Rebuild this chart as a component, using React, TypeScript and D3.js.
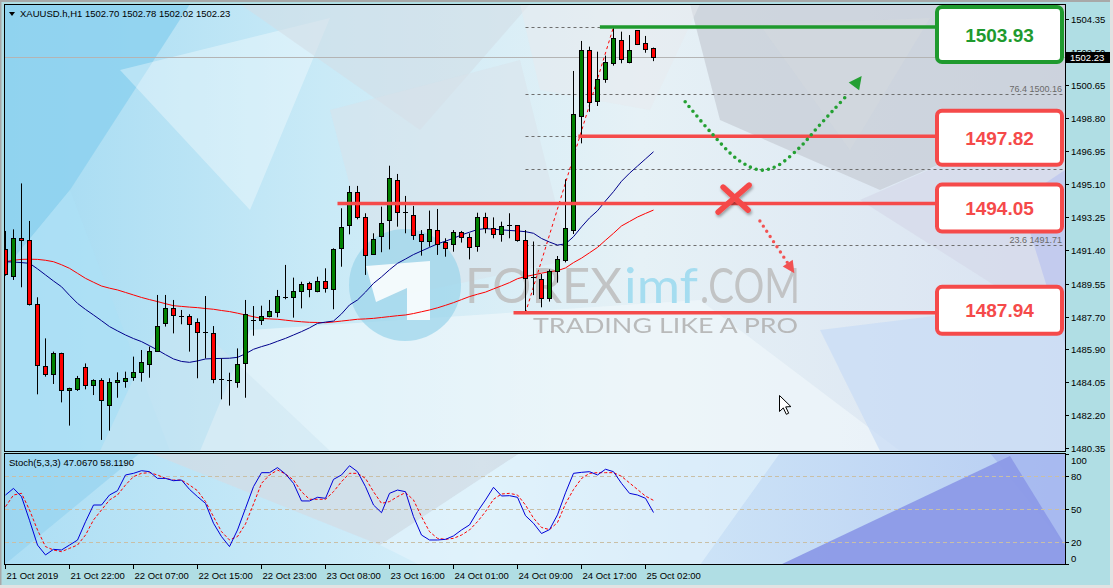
import React from 'react';
import * as d3 from 'd3';

// XAUUSD H1 candles, 21 Oct 2019 -> 25 Oct 03:00 (82 bars)
const opens = [
  1491.49, 1489.96, 1492.11, 1492.01, 1488.42, 1484.93, 1484.50, 1485.67, 1483.62, 1483.66,
  1484.89, 1483.88, 1484.18, 1482.77, 1484.05, 1484.11, 1484.31, 1484.61, 1485.06, 1485.80,
  1487.35, 1488.19, 1487.74, 1487.76, 1487.41, 1486.85, 1486.76, 1484.20, 1484.16, 1484.05,
  1485.11, 1487.52, 1487.50, 1487.73, 1487.95, 1488.81, 1488.81, 1489.16, 1489.59, 1489.16,
  1489.72, 1489.25, 1491.55, 1492.85, 1494.68, 1493.28, 1491.21, 1492.20, 1493.10, 1495.37,
  1493.53, 1493.41, 1492.35, 1491.92, 1492.57, 1491.88, 1491.77, 1492.44, 1492.16, 1491.64,
  1493.28, 1492.67, 1492.33, 1492.82, 1492.82, 1491.98, 1489.93, 1489.82, 1488.75, 1490.24,
  1490.86, 1492.57, 1498.91, 1502.59, 1499.75, 1501.00, 1501.90, 1503.20, 1501.95, 1503.71,
  1502.98, 1502.70,
];
const highs = [
  1492.52, 1492.61, 1495.18, 1493.08, 1488.81, 1486.51, 1485.77, 1485.71, 1483.75, 1484.41,
  1485.11, 1484.22, 1484.28, 1484.28, 1484.61, 1484.65, 1485.49, 1485.86, 1486.05, 1488.94,
  1488.94, 1488.66, 1488.10, 1487.86, 1487.63, 1488.88, 1487.20, 1485.39, 1484.59, 1485.95,
  1488.66, 1488.32, 1488.34, 1488.66, 1489.22, 1490.62, 1489.91, 1489.68, 1489.68, 1489.96,
  1490.43, 1491.55, 1493.79, 1495.04, 1495.04, 1493.51, 1492.39, 1493.88, 1496.17, 1495.71,
  1494.48, 1493.92, 1492.57, 1493.66, 1493.75, 1492.11, 1492.57, 1492.52, 1492.39, 1493.54,
  1493.54, 1493.28, 1493.04, 1493.51, 1492.85, 1492.57, 1491.93, 1490.11, 1490.37, 1491.12,
  1495.41, 1501.47, 1503.15, 1502.83, 1502.55, 1502.33, 1503.93, 1503.67, 1503.48, 1503.76,
  1503.43, 1502.78,
];
const lows = [
  1490.02, 1489.78, 1489.37, 1488.35, 1483.38, 1484.37, 1483.96, 1482.93, 1481.63, 1483.57,
  1483.66, 1483.34, 1480.83, 1481.35, 1483.19, 1483.75, 1484.14, 1484.09, 1484.31, 1485.77,
  1487.17, 1486.79, 1487.30, 1485.77, 1484.28, 1485.39, 1484.00, 1483.10, 1482.75, 1483.75,
  1483.19, 1486.66, 1487.26, 1487.69, 1487.69, 1488.70, 1487.67, 1488.19, 1488.81, 1489.09,
  1489.07, 1488.14, 1490.52, 1492.33, 1493.17, 1490.06, 1491.18, 1491.33, 1491.49, 1492.76,
  1492.39, 1492.02, 1491.14, 1491.64, 1491.18, 1491.08, 1491.36, 1491.87, 1490.93, 1491.36,
  1492.39, 1492.11, 1491.92, 1492.11, 1491.92, 1487.94, 1488.93, 1488.25, 1488.57, 1489.63,
  1490.76, 1492.35, 1497.42, 1499.19, 1499.51, 1500.81, 1501.77, 1501.90, 1501.90, 1502.92,
  1502.49, 1502.02,
];
const closes = [
  1490.06, 1492.11, 1491.96, 1488.38, 1484.97, 1484.50, 1485.67, 1483.57, 1483.72, 1484.28,
  1483.88, 1484.13, 1483.01, 1484.05, 1484.18, 1484.28, 1484.61, 1485.17, 1485.80, 1487.20,
  1488.19, 1487.78, 1487.71, 1487.30, 1486.85, 1486.81, 1484.22, 1484.16, 1484.13, 1485.06,
  1487.82, 1487.48, 1487.73, 1488.04, 1488.83, 1488.77, 1489.16, 1489.53, 1489.22, 1489.72,
  1489.31, 1491.51, 1492.72, 1494.68, 1493.28, 1491.14, 1492.07, 1492.95, 1495.43, 1493.56,
  1493.47, 1492.26, 1491.92, 1492.61, 1491.79, 1491.55, 1492.44, 1492.15, 1491.59, 1493.28,
  1492.63, 1492.35, 1492.76, 1492.78, 1491.96, 1489.87, 1489.90, 1488.75, 1490.28, 1490.90,
  1492.67, 1499.04, 1502.59, 1499.71, 1501.02, 1501.95, 1503.26, 1502.12, 1502.59, 1502.96,
  1502.68, 1502.23,
];

// moving averages (navy = fast, red = slow)
const maFast = [
  1490.80, 1490.78, 1490.75, 1490.71, 1490.40, 1490.06, 1489.72, 1489.40, 1488.92, 1488.47,
  1488.13, 1487.82, 1487.50, 1487.17, 1486.93, 1486.70, 1486.50, 1486.33, 1486.10, 1485.86,
  1485.60, 1485.36, 1485.22, 1485.17, 1485.25, 1485.36, 1485.38, 1485.39, 1485.40, 1485.45,
  1485.65, 1485.90, 1486.05, 1486.18, 1486.35, 1486.51, 1486.70, 1486.89, 1487.10, 1487.35,
  1487.42, 1487.48, 1487.88, 1488.38, 1488.66, 1489.10, 1489.59, 1489.95, 1490.35, 1490.71,
  1490.95, 1491.20, 1491.40, 1491.60, 1491.80, 1491.95, 1492.11, 1492.30, 1492.45, 1492.60,
  1492.65, 1492.62, 1492.58, 1492.55, 1492.52, 1492.48, 1492.39, 1492.10, 1491.90, 1491.73,
  1491.80, 1492.20, 1492.75, 1493.25, 1493.65, 1494.20, 1494.72, 1495.30, 1495.75, 1496.15,
  1496.55, 1496.95,
];
const maSlow = [
  1490.80, 1490.88, 1490.93, 1490.94, 1490.93, 1490.88, 1490.80, 1490.63, 1490.43, 1490.15,
  1489.87, 1489.65, 1489.44, 1489.32, 1489.22, 1489.08, 1488.94, 1488.80, 1488.68, 1488.57,
  1488.45, 1488.34, 1488.30, 1488.26, 1488.23, 1488.18, 1488.14, 1488.07, 1488.01, 1487.92,
  1487.82, 1487.72, 1487.63, 1487.60, 1487.58, 1487.53, 1487.48, 1487.44, 1487.41, 1487.40,
  1487.39, 1487.43, 1487.48, 1487.53, 1487.58, 1487.60, 1487.63, 1487.68, 1487.73, 1487.78,
  1487.82, 1487.90, 1488.00, 1488.10, 1488.22, 1488.36, 1488.51, 1488.68, 1488.85, 1488.98,
  1489.10, 1489.28, 1489.45, 1489.63, 1489.85, 1489.97, 1490.06, 1490.16, 1490.24, 1490.30,
  1490.45, 1490.75, 1491.00, 1491.30, 1491.60, 1492.00, 1492.39, 1492.80, 1493.05, 1493.30,
  1493.50, 1493.69,
];

// Stoch(5,3,3)
const stochK = [
  63, 69, 61.5, 40, 17.5, 8.5, 13.6, 13, 17.5, 22,
  38.7, 53.9, 53.9, 63, 66.9, 81.2, 82.7, 85.1, 84.2, 78.1,
  78.1, 76, 76.6, 68.1, 61.5, 55.4, 37.3, 25.2, 16.1, 31.2,
  50.9, 70.6, 83.3, 83.3, 87.9, 82.1, 73.6, 57.6, 57.6, 60.9,
  60, 77.2, 81.2, 89.6, 84.2, 70.6, 53.9, 46.9, 64.5, 67.5,
  66, 43.3, 26.6, 22.1, 22.1, 22.7, 25.8, 31.2, 35.8, 47.9,
  58.5, 70, 62.1, 62.4, 60.9, 44.2, 37.3, 28, 31.5, 45,
  65, 82.7, 83.6, 84.2, 81.2, 86.4, 84.2, 73.6, 64.5, 63,
  60, 47.07,
];
const stochD = [
  52.4, 63, 64.5, 49.4, 31.2, 16.1, 13, 11.5, 14.5, 17.5,
  26.6, 40.3, 49.4, 58.5, 63, 72.1, 79.7, 82.7, 83.3, 81.2,
  78.1, 76.6, 76.6, 72.1, 66.9, 57, 43.3, 29.7, 22.1, 25.2,
  36.7, 54.8, 73.6, 81.2, 85.7, 82.1, 76.6, 66, 59.1, 59.1,
  59.1, 66, 75.1, 82.7, 82.7, 78.1, 66, 55.4, 57, 61.5,
  65.2, 58.5, 43.3, 29.7, 23.6, 22.7, 23.6, 26.6, 31.2, 38.8,
  47.9, 59.1, 63.9, 64.5, 63, 53.9, 42, 33.5, 31.5, 38,
  55, 68, 78, 82.7, 83.3, 83.3, 83.3, 80, 74, 68,
  62, 58.12,
];

const priceTicks = [1504.35, 1502.50, 1500.65, 1498.80, 1496.95, 1495.10, 1493.25, 1491.40, 1489.55, 1487.70, 1485.90, 1484.05, 1482.20, 1480.35];
const timeLabels = ['21 Oct 2019', '21 Oct 22:00', '22 Oct 07:00', '22 Oct 15:00', '22 Oct 23:00', '23 Oct 08:00', '23 Oct 16:00', '24 Oct 01:00', '24 Oct 09:00', '24 Oct 17:00', '25 Oct 02:00'];
const timeLabelBars = [0, 8, 16, 24, 32, 40, 48, 56, 64, 72, 80];
const stochTicks = [100, 80, 50, 20, 0];
const stochLevels = [80, 50, 20];

// drawn objects
const levelPrices = [1503.93, 1497.82, 1494.05, 1487.94];
const levelStartBars = [74.3, 71.6, 41.5, 63.5];
const levelColors = ['#1f9a2e', '#f54a4a', '#f54a4a', '#f54a4a'];
const fibRatios = [0, 23.6, 38.2, 50, 61.8, 76.4, 100];
const fibShown = [23.6, 76.4];
const fibStartBar = 65;
const fibEndBar = 76;
const fibLow = 1487.94;
const fibHigh = 1503.93;
const currentPrice = 1502.23;
const greenScenario: [number, number][] = [
  [84.96, 1499.75], [88.1, 1498.07], [91.6, 1496.49], [94.3, 1495.93], [96.4, 1496.15],
  [99.3, 1497.2], [101.4, 1498.26], [103.5, 1499.29], [105.4, 1500.22], [106.8, 1501.06],
];
const redScenario: [number, number][] = [[94.3, 1493.08], [98.4, 1490.3]];
const crossAt: [number, number] = [90.95, 1494.3];

// decorative low-poly backdrop
const mainShapes: [string, number, string][] = [
  ['#8dd1ef', 0.85, '4,4 190,4 70,190 4,270'],
  ['#ace0f5', 0.8, '4,270 70,190 170,451 4,451'],
  ['#ffffff', 0.35, '120,70 330,18 250,210'],
  ['#d2dde6', 0.6, '240,4 530,4 420,130'],
  ['#d9e2e9', 0.5, '330,110 520,60 570,260 380,300'],
  ['#c6ccd4', 0.7, '690,4 1065,4 1065,110 880,190 720,120'],
  ['#d3d8de', 0.6, '760,25 930,18 850,150'],
  ['#e7eaee', 0.5, '520,4 700,4 650,110 540,90'],
  ['#d5dae9', 0.75, '860,200 1065,110 1065,330'],
  ['#c0c8ee', 0.85, '1020,200 1065,170 1065,345'],
  ['#f2f9fc', 0.6, '250,330 700,300 900,451 200,451'],
  ['#c8dbf5', 0.7, '820,330 1065,300 1065,451 880,451'],
  ['#cde6f2', 0.5, '170,300 330,451 100,451'],
];
const stochShapes: [string, number, string][] = [
  ['#96d3f0', 0.7, '4,453 140,453 4,565'],
  ['#d3dbe4', 0.7, '150,453 520,453 380,545'],
  ['#e4f4fb', 0.6, '380,545 520,453 780,453 700,565 420,565'],
  ['#a6b8ef', 0.9, '990,453 1065,453 1065,545'],
  ['#8c9ae7', 0.95, '780,565 1010,456 1065,545 1065,565'],
];

const font = "'Liberation Sans', Arial, sans-serif";

export default function App() {
  const x = d3.scaleLinear().domain([0, 81]).range([5.5, 653.5]);
  const y = d3.scaleLinear().domain([1480.35, 1504.35]).range([448.5, 19.5]);
  const ys = d3.scaleLinear().domain([0, 100]).range([564.3, 454.3]);
  const snap = (v: number) => Math.round(v - 0.5) + 0.5;

  const maLine = d3.line<number>().x((_, i) => x(i)).y(d => y(d));
  const stLine = d3.line<number>().x((_, i) => x(i)).y(d => ys(d));
  const scenLine = d3.line<[number, number]>().x(d => x(d[0])).y(d => y(d[1])).curve(d3.curveCatmullRom);

  const arrowHead = (pts: [number, number][], size: number) => {
    const a = pts[pts.length - 2];
    const b = pts[pts.length - 1];
    const x1 = x(a[0]), y1 = y(a[1]), x2 = x(b[0]), y2 = y(b[1]);
    const ang = Math.atan2(y2 - y1, x2 - x1);
    const tipX = x2 + Math.cos(ang) * 3, tipY = y2 + Math.sin(ang) * 3;
    const bx = tipX - Math.cos(ang) * size, by = tipY - Math.sin(ang) * size;
    const px = Math.cos(ang + Math.PI / 2) * size * 0.5, py = Math.sin(ang + Math.PI / 2) * size * 0.5;
    return `${tipX},${tipY} ${bx + px},${by + py} ${bx - px},${by - py}`;
  };

  const boxLeft = 937;
  const boxRight = 1062;
  const boxHeights = [55, 54, 47, 47];
  const boxShift = [0, 1.5, 4.5, -2.5];

  return (
    <div style={{ position: 'fixed', left: 0, top: 0 }}>
      <svg width={1113} height={588} style={{ display: 'block', fontFamily: font }}>
        <defs>
          <linearGradient id="mainBg" x1="0" x2="1" y1="0" y2="0">
            <stop offset="0%" stopColor="#a3daf2" />
            <stop offset="30%" stopColor="#c9eaf7" />
            <stop offset="60%" stopColor="#e6f1f6" />
            <stop offset="100%" stopColor="#d9e2f1" />
          </linearGradient>
          <linearGradient id="stochBg" x1="0" x2="1" y1="0" y2="0">
            <stop offset="0%" stopColor="#acdef4" />
            <stop offset="45%" stopColor="#d9f0fa" />
            <stop offset="100%" stopColor="#b7cdf2" />
          </linearGradient>
          <clipPath id="mainClip"><rect x={5} y={5} width={1060} height={446} /></clipPath>
          <clipPath id="stochClip"><rect x={5} y={454} width={1060} height={111} /></clipPath>
          <clipPath id="hiddenTick"><rect x={1066} y={40} width={46} height={12} /></clipPath>
          <filter id="shadow" x="-50%" y="-50%" width="200%" height="200%">
            <feDropShadow dx="1" dy="2" stdDeviation="1.5" floodColor="#000" floodOpacity="0.35" />
          </filter>
        </defs>

        {/* frame */}
        <rect x={0} y={0} width={1113} height={588} fill="#b0dee4" />
        <rect x={0} y={0} width={1113} height={2} fill="#a8a8a8" />
        <rect x={0} y={0} width={1.5} height={588} fill="#a8a8a8" />
        <rect x={1110} y={0} width={3} height={588} fill="#e2e2e2" />
        <rect x={0} y={585} width={1113} height={3} fill="#e2e2e2" />

        {/* main panel background */}
        <rect x={4.5} y={4.5} width={1061} height={447} fill="url(#mainBg)" />
        <g clipPath="url(#mainClip)">
          {mainShapes.map(([c, o, p], i) => <polygon key={i} points={p} fill={c} opacity={o} />)}
        </g>
        <rect x={4.5} y={453.5} width={1061} height={111} fill="url(#stochBg)" />
        <g clipPath="url(#stochClip)">
          {stochShapes.map(([c, o, p], i) => <polygon key={i} points={p} fill={c} opacity={o} />)}
        </g>

        {/* watermark */}
        <g clipPath="url(#mainClip)">
          <circle cx={405} cy={285} r={56} fill="#9ed6eb" opacity={0.75} />
          <polygon points="366,266 430,261 430,320 407,320 407,288 376,302" fill="#ffffff" opacity={0.85} />
          <text x={465} y={303} fontFamily="Lato, 'Open Sans', sans-serif" fontSize={48} fill="#bdbdbd" opacity={0.85} textLength={157} lengthAdjust="spacingAndGlyphs">FOREX</text>
          <text x={624} y={303} fontFamily="Lato, 'Open Sans', sans-serif" fontSize={48} fill="#a2dcf0" opacity={0.95} textLength={74} lengthAdjust="spacingAndGlyphs">imf</text>
          <text x={700} y={303} fontFamily="Lato, 'Open Sans', sans-serif" fontSize={48} fill="#bdbdbd" opacity={0.85} textLength={100} lengthAdjust="spacingAndGlyphs">.COM</text>
          <text x={533} y={333} fontFamily="Lato, 'Open Sans', sans-serif" fontSize={22} fill="#b4b4b4" opacity={0.9} textLength={265} lengthAdjust="spacingAndGlyphs">TRADING LIKE A PRO</text>
        </g>

        <g clipPath="url(#mainClip)">
          {/* current price line */}
          <line x1={5} x2={1065} y1={snap(y(currentPrice))} y2={snap(y(currentPrice))} stroke="#b4b4b4" strokeWidth={1} />

          {/* fibo levels */}
          {fibRatios.map(r => {
            const p = fibLow + (fibHigh - fibLow) * r / 100;
            const yy = snap(y(p));
            return (
              <g key={r}>
                <line x1={x(fibStartBar)} x2={1063} y1={yy} y2={yy} stroke="#6e6e6e" strokeWidth={1} strokeDasharray="3,3" />
                {fibShown.includes(r) && (
                  <text x={1062} y={yy - 3} textAnchor="end" fontSize={9} fill="#6a6a6a">{`${r.toFixed(1)} ${p.toFixed(2)}`}</text>
                )}
              </g>
            );
          })}
          <line x1={x(fibStartBar)} y1={y(fibLow)} x2={x(fibEndBar)} y2={y(fibHigh)} stroke="#ff0000" strokeWidth={1} strokeDasharray="3,3" />

          {/* moving averages */}
          <path d={maLine(maSlow) ?? ''} fill="none" stroke="#ff0000" strokeWidth={1} />
          <path d={maLine(maFast) ?? ''} fill="none" stroke="#00008b" strokeWidth={1} />

          {/* candles */}
          {opens.map((o, i) => {
            const c = closes[i];
            const cx = x(i);
            const top = snap(y(Math.max(o, c)));
            const bot = snap(y(Math.min(o, c)));
            const bull = c >= o;
            return (
              <g key={i}>
                <line x1={cx} x2={cx} y1={y(highs[i])} y2={y(lows[i])} stroke="#000" strokeWidth={1} />
                {bot - top < 1.5 ? (
                  <line x1={cx - 2.5} x2={cx + 2.5} y1={top} y2={top} stroke="#000" strokeWidth={1} />
                ) : (
                  <rect x={cx - 2} y={top} width={4} height={bot - top} fill={bull ? '#008000' : '#ff0000'} stroke="#000" strokeWidth={1} />
                )}
              </g>
            );
          })}

          {/* support / resistance lines */}
          {levelPrices.map((p, i) => (
            <line key={p} x1={x(levelStartBars[i])} x2={boxLeft} y1={y(p)} y2={y(p)} stroke={levelColors[i]} strokeWidth={3.5} />
          ))}

          {/* scenarios */}
          <path d={scenLine(greenScenario.slice(0, -1)) ?? ''} fill="none" stroke="#24a033" strokeWidth={3.6} strokeDasharray="0,6.2" strokeLinecap="round" />
          <polygon points={arrowHead(greenScenario, 13)} fill="#24a033" />
          <path d={scenLine(redScenario) ?? ''} fill="none" stroke="#f25252" strokeWidth={3.4} strokeDasharray="0,6.2" strokeLinecap="round" />
          <polygon points={arrowHead(redScenario, 12)} fill="#f25252" />
          <g filter="url(#shadow)" stroke="#f54a4a" strokeWidth={5.5} strokeLinecap="round">
            <line x1={x(crossAt[0]) - 15} y1={y(crossAt[1]) + 13} x2={x(crossAt[0]) + 16} y2={y(crossAt[1]) - 14} />
            <line x1={x(crossAt[0]) - 10} y1={y(crossAt[1]) - 12} x2={x(crossAt[0]) + 15} y2={y(crossAt[1]) + 11} />
          </g>

          {/* mouse cursor */}
          <path d="M779.5,395.5 l0,16 l3.8,-3.6 l3,6.4 l2.4,-1.1 l-3,-6.3 l5.2,-0.3 z" fill="#ffffff" stroke="#000" strokeWidth={1} />
        </g>

        {/* level boxes */}
        {levelPrices.map((p, i) => {
          const h = boxHeights[i];
          const top = Math.max(7, y(p) + boxShift[i] - h / 2);
          return (
            <g key={p}>
              <rect x={boxLeft} y={top} width={boxRight - boxLeft} height={h} rx={5} fill="#ffffff" stroke={levelColors[i]} strokeWidth={4} />
              <text x={(boxLeft + boxRight) / 2} y={top + h / 2 + 7} textAnchor="middle" fontSize={19} fontWeight="bold" fill={levelColors[i]}>{p.toFixed(2)}</text>
            </g>
          );
        })}

        {/* panel borders */}
        <rect x={4.5} y={4.5} width={1061} height={447} fill="none" stroke="#000" strokeWidth={1} />
        <rect x={4.5} y={453.5} width={1061} height={111} fill="none" stroke="#000" strokeWidth={1} />

        {/* header */}
        <polygon points="9,12 15,12 12,16" fill="#000" />
        <text x={20} y={17} fontSize={9.5} fill="#000">XAUUSD.h,H1  1502.70 1502.78 1502.02 1502.23</text>

        {/* price axis; the tick label under the current-price tag only shows its top */}
        {priceTicks.map(t => {
          const hidden = Math.abs(y(t) - y(currentPrice)) < 10;
          return (
            <g key={t}>
              <line x1={1065} x2={1069} y1={snap(y(t))} y2={snap(y(t))} stroke="#000" />
              <text x={1071} y={y(t) + 3.5} fontSize={9.5} fill="#000" clipPath={hidden ? 'url(#hiddenTick)' : undefined}>{t.toFixed(2)}</text>
            </g>
          );
        })}
        <rect x={1066} y={52} width={44} height={11} fill="#000" />
        <text x={1070} y={61} fontSize={9.5} fill="#fff">{currentPrice.toFixed(2)}</text>

        {/* stochastic */}
        <g clipPath="url(#stochClip)">
          {stochLevels.map(l => (
            <line key={l} x1={5} x2={1065} y1={snap(ys(l))} y2={snap(ys(l))} stroke="#c9bfa6" strokeWidth={1} strokeDasharray="4,3" />
          ))}
          <path d={stLine(stochD) ?? ''} fill="none" stroke="#ff0000" strokeWidth={1} strokeDasharray="3,2" />
          <path d={stLine(stochK) ?? ''} fill="none" stroke="#0000d8" strokeWidth={1} />
        </g>
        <text x={9} y={466} fontSize={9.5} fill="#000">Stoch(5,3,3) 47.0670 58.1190</text>
        {stochTicks.map(t => {
          const yy = Math.min(558, Math.max(460, ys(t)));
          return (
            <g key={t}>
              <line x1={1065} x2={1069} y1={snap(ys(t))} y2={snap(ys(t))} stroke="#000" />
              <text x={1071} y={yy + 3.5} fontSize={9.5} fill="#000">{t}</text>
            </g>
          );
        })}

        {/* time axis */}
        {timeLabels.map((l, i) => (
          <g key={l}>
            <line x1={x(timeLabelBars[i])} x2={x(timeLabelBars[i])} y1={565} y2={569} stroke="#000" />
            <text x={x(timeLabelBars[i]) + 1} y={579} fontSize={9.5} fill="#000">{l}</text>
          </g>
        ))}
      </svg>
    </div>
  );
}
